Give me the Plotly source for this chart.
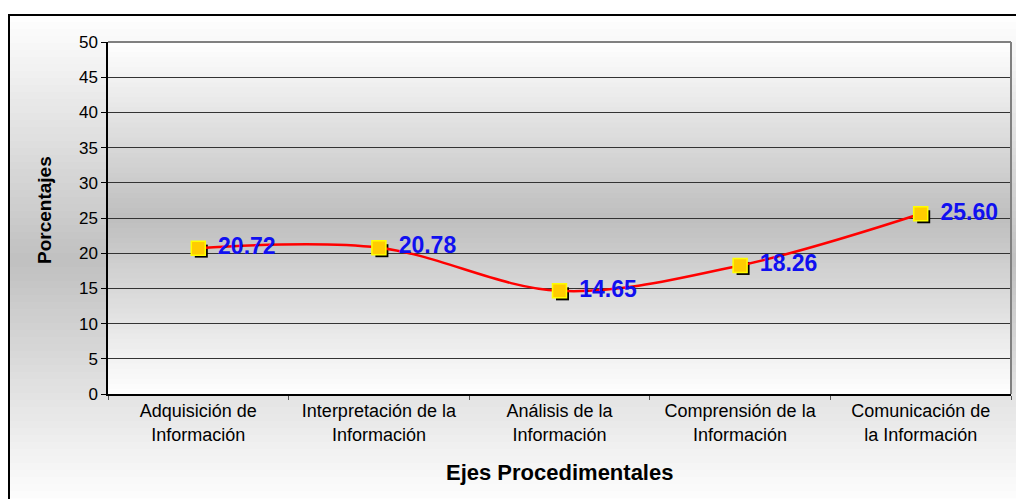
import plotly.graph_objects as go

# Procedural axes and their percentages
categorias = [
    "Adquisición de<br>Información",
    "Interpretación de la<br>Información",
    "Análisis de la<br>Información",
    "Comprensión de la<br>Información",
    "Comunicación de<br>la Información",
]
porcentajes = [20.72, 20.78, 14.65, 18.26, 25.60]
etiquetas = [f"{v:.2f}" for v in porcentajes]
y_ticks = list(range(0, 51, 5))

W, H = 1016, 499
ML, MR, MT, MB = 108, 5, 42, 105
PW, PH = W - ML - MR, H - MT - MB
FONT = "Arial, Liberation Sans, sans-serif"


def px_x(px):
    return (px - ML) / PW


def px_y(py):
    return (H - MB - py) / PH


def grey(t, dark=190):
    v = round(dark + (255 - dark) * abs(2 * t - 1))
    return f"rgb({v},{v},{v})"


shapes = []
# chart-area gradient: white -> grey -> white
top, bot, n = 15, 505, 70
for i in range(n):
    a = top + (bot - top) * i / n
    b = top + (bot - top) * (i + 1) / n + 0.5
    shapes.append(dict(type="rect", xref="paper", yref="paper",
                       x0=px_x(9), x1=px_x(1030), y0=px_y(b), y1=px_y(a),
                       fillcolor=grey((i + 0.5) / n, 192), line_width=0, layer="below"))
# plot-area gradient
n = 70
for i in range(n):
    shapes.append(dict(type="rect", xref="paper", yref="paper",
                       x0=0, x1=1, y0=1 - (i + 1) / n - 0.002, y1=1 - i / n,
                       fillcolor=grey((i + 0.5) / n, 190), line_width=0, layer="below"))
# outer frame
shapes.append(dict(type="rect", xref="paper", yref="paper",
                   x0=px_x(9), x1=px_x(1030), y0=px_y(510), y1=px_y(15),
                   line=dict(color="black", width=2), fillcolor="rgba(0,0,0,0)", layer="below"))
# plot-area border (top and right)
shapes.append(dict(type="line", xref="paper", yref="paper", x0=0, x1=1, y0=1, y1=1,
                   line=dict(color="#808080", width=2)))
shapes.append(dict(type="line", xref="paper", yref="paper", x0=1, x1=1, y0=0, y1=1,
                   line=dict(color="#808080", width=2)))

# shadow offset (pixels) expressed as axis-range shifts
sx, sy = 3, 3
dx = sx / PW * 5
dy = sy / PH * 50

fig = go.Figure()

# marker shadows on the base axes
fig.add_trace(go.Scatter(
    x=categorias, y=porcentajes, xaxis="x", yaxis="y", mode="markers",
    marker=dict(symbol="square", size=13, color="black", line=dict(width=0)),
    hoverinfo="skip", showlegend=False,
))
# main series on the overlaying axes
fig.add_trace(go.Scatter(
    x=categorias, y=porcentajes, xaxis="x2", yaxis="y2", mode="lines+markers",
    line=dict(color="#ff0000", width=2.5, shape="spline", smoothing=1),
    marker=dict(symbol="square", size=14, color="#ffcc00", line=dict(color="#ffff00", width=1.5)),
    showlegend=False,
))
# value labels (transparent wide marker keeps the text clear of the square)
fig.add_trace(go.Scatter(
    x=categorias, y=porcentajes, xaxis="x2", yaxis="y2", mode="markers+text",
    marker=dict(size=30, color="rgba(0,0,0,0)"),
    text=etiquetas, textposition="middle right",
    textfont=dict(family=FONT, size=23, color="#1010f0", weight="bold"),
    hoverinfo="skip", showlegend=False,
))

fig.update_layout(
    width=W, height=H,
    margin=dict(l=ML, r=MR, t=MT, b=MB),
    paper_bgcolor="white", plot_bgcolor="rgba(0,0,0,0)",
    font=dict(family=FONT, color="black"),
    shapes=shapes,
    xaxis=dict(type="category", categoryarray=categorias, range=[-0.5 - dx, 4.5 - dx],
               visible=False),
    yaxis=dict(range=[0 + dy, 50 + dy], visible=False),
    xaxis2=dict(type="category", categoryarray=categorias, range=[-0.5, 4.5],
                overlaying="x", anchor="y2", side="bottom",
                showline=True, linecolor="black", linewidth=1.5,
                ticks="outside", tickson="boundaries", ticklen=4, tickcolor="#555",
                showgrid=False, tickfont=dict(size=18, color="black")),
    yaxis2=dict(range=[0, 50], tickvals=y_ticks, overlaying="y", anchor="x2", side="left",
                showline=True, linecolor="black", linewidth=1.5,
                ticks="outside", ticklen=5, tickcolor="black",
                showgrid=True, gridcolor="#333", gridwidth=1, zeroline=False,
                tickfont=dict(size=17, color="black")),
    annotations=[
        dict(text="<b>Porcentajes</b>", xref="paper", yref="paper",
             x=px_x(44), y=px_y(210), xanchor="center", yanchor="middle",
             textangle=-90, showarrow=False,
             font=dict(size=19, color="black")),
        dict(text="<b>Ejes Procedimentales</b>", xref="paper", yref="paper",
             x=0.5, y=px_y(472), xanchor="center", yanchor="middle", showarrow=False,
             font=dict(size=22, color="black")),
    ],
)

fig.write_html("out.html")
